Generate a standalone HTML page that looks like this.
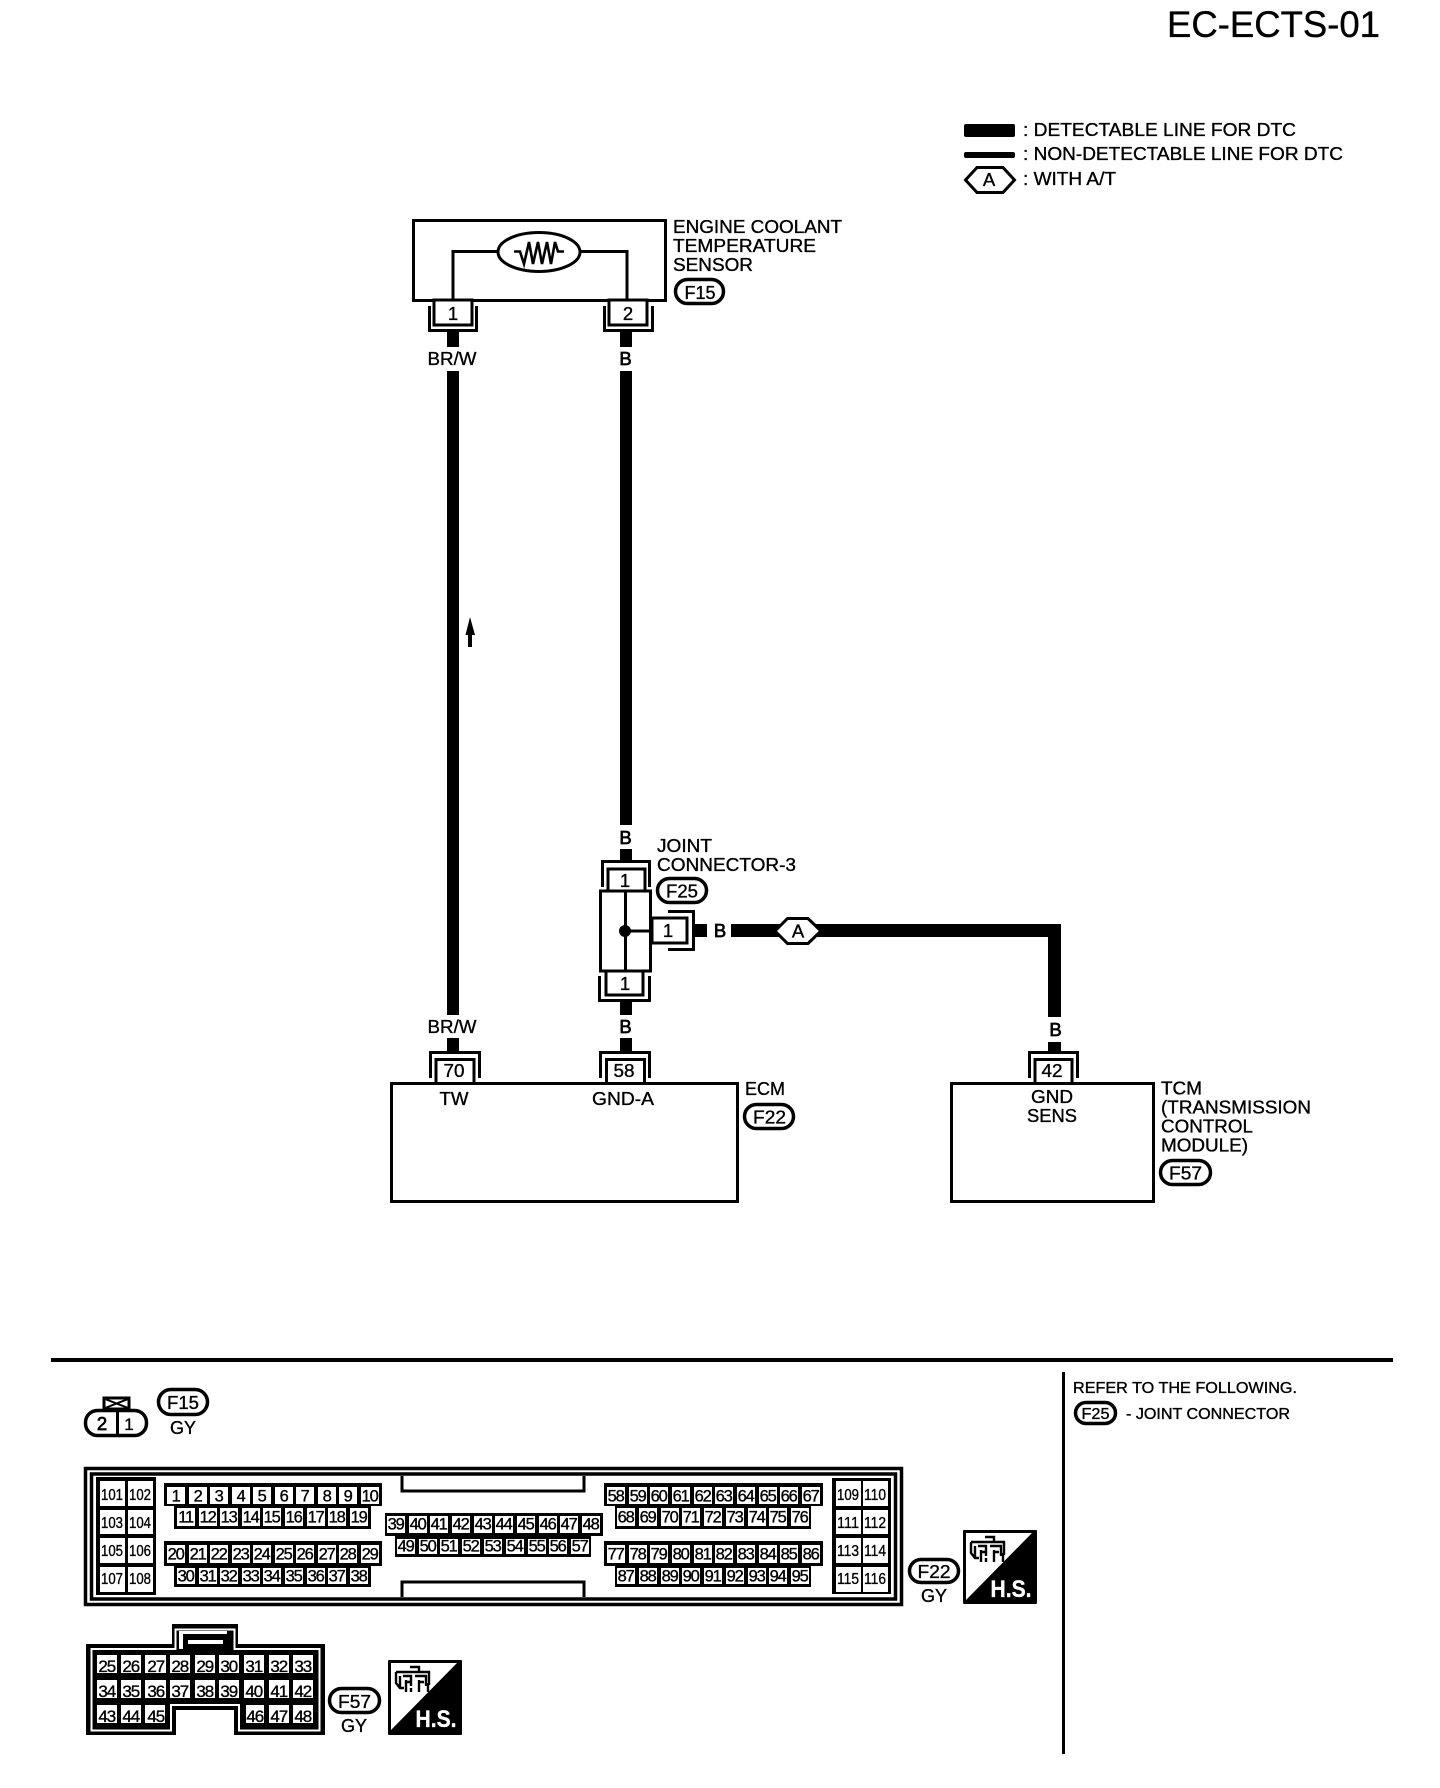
<!DOCTYPE html>
<html>
<head>
<meta charset="utf-8">
<title>EC-ECTS-01</title>
<style>
html,body{margin:0;padding:0;background:#fff;}
svg{display:block;}
text{font-family:"Liberation Sans",sans-serif;fill:#000;stroke:#000;stroke-width:.35;}
.m{text-anchor:middle;}
.l{font-size:18.5px;}
.n{font-size:16.5px;text-anchor:middle;letter-spacing:-1.2px;}
.b{font-size:18.5px;text-anchor:middle;stroke-width:.7;}
.h{font-size:16px;text-anchor:middle;}
.t{font-size:17px;text-anchor:middle;letter-spacing:-1.2px;}
.s{fill:#fff;stroke:#000;stroke-width:3;}
.o{fill:none;stroke:#000;stroke-width:3;}
.p{fill:#fff;stroke:#000;stroke-width:3.5;}
</style>
</head>
<body>
<svg xmlns="http://www.w3.org/2000/svg" width="1440" height="1788" viewBox="0 0 1440 1788">
<rect width="1440" height="1788" fill="#fff"/>

<!-- title -->
<text x="1167" y="37" font-size="37" textLength="213" lengthAdjust="spacingAndGlyphs">EC-ECTS-01</text>

<!-- legend -->
<rect x="964" y="124" width="51" height="13" rx="2"/>
<rect x="964" y="152" width="51" height="6" rx="2"/>
<polygon points="965.5,180 977,167.5 1003,167.5 1014.5,180 1003,192.5 977,192.5" class="o"/>
<text x="989" y="186" class="l m" font-size="18">A</text>
<text x="1023" y="136" class="l" textLength="273" lengthAdjust="spacingAndGlyphs">: DETECTABLE LINE FOR DTC</text>
<text x="1023" y="160" class="l" textLength="320" lengthAdjust="spacingAndGlyphs">: NON-DETECTABLE LINE FOR DTC</text>
<text x="1023" y="185" class="l" textLength="93" lengthAdjust="spacingAndGlyphs">: WITH A/T</text>

<!-- wires -->
<g fill="#000">
<rect x="447" y="332" width="12" height="15"/>
<rect x="447" y="371" width="12" height="644"/>
<rect x="447" y="1038" width="12" height="13"/>
<rect x="620" y="332" width="12" height="15"/>
<rect x="620" y="371" width="12" height="454"/>
<rect x="620" y="849" width="12" height="11"/>
<rect x="620" y="1002" width="12" height="13"/>
<rect x="620" y="1038" width="12" height="13"/>
<rect x="695" y="924" width="12" height="13"/>
<rect x="731" y="924" width="330" height="13"/>
<rect x="1048" y="924" width="13" height="93"/>
<rect x="1048" y="1042" width="13" height="9"/>
</g>
<!-- arrow -->
<path d="M470 617 L475 635 H472 V647 H468 V635 H465.5 Z" fill="#000"/>

<!-- sensor -->
<rect x="413.5" y="220.5" width="252" height="80" class="s"/>
<path d="M453 301 V251.5 H627 V301" class="o"/>
<ellipse cx="539" cy="252" rx="41" ry="19.5" fill="#fff" stroke="#000" stroke-width="3"/>
<path d="M514 251.5 H520 L524 264 L529 242 L533 264 L538 242 L542 264 L547 242 L551 264 L555 242 L558 251.5 H564" fill="none" stroke="#000" stroke-width="2.6"/>
<text x="673" y="233" class="l" textLength="169" lengthAdjust="spacingAndGlyphs">ENGINE COOLANT</text>
<text x="673" y="252" class="l" textLength="143" lengthAdjust="spacingAndGlyphs">TEMPERATURE</text>
<text x="673" y="271" class="l" textLength="80" lengthAdjust="spacingAndGlyphs">SENSOR</text>
<rect x="675.5" y="279.5" width="48" height="24" rx="12" class="p"/>
<text x="700" y="299" class="l m" textLength="31" lengthAdjust="spacingAndGlyphs">F15</text>

<!-- sensor connectors -->
<rect x="434" y="300" width="38" height="25" class="s"/>
<path d="M429.5 306 V330.5 H476.5 V306" class="o"/>
<text x="453" y="320" class="l m" font-size="17">1</text>
<rect x="609" y="300" width="38" height="25" class="s"/>
<path d="M604.5 306 V330.5 H652.5 V306" class="o"/>
<text x="628" y="320" class="l m" font-size="17">2</text>

<text x="452" y="365" class="l m" textLength="49" lengthAdjust="spacingAndGlyphs">BR/W</text>
<text x="625.5" y="365" class="b">B</text>

<!-- joint connector -->
<text x="625.5" y="844" class="b">B</text>
<text x="657" y="852" class="l" textLength="55" lengthAdjust="spacingAndGlyphs">JOINT</text>
<text x="657" y="871" class="l" textLength="139" lengthAdjust="spacingAndGlyphs">CONNECTOR-3</text>
<rect x="657.5" y="878.5" width="49" height="24" rx="12" class="p"/>
<text x="682" y="897.5" class="l m" textLength="32" lengthAdjust="spacingAndGlyphs">F25</text>

<path d="M602.5 887 V861.5 H649.5 V887" class="o"/>
<rect x="608" y="869" width="37" height="23" class="s"/>
<text x="625" y="887" class="l m" font-size="16">1</text>

<rect x="600.5" y="891" width="50" height="80" class="s"/>
<path d="M625.5 891 V971 M625.5 931 H651" class="o"/>
<circle cx="625" cy="931" r="6" fill="#000"/>

<path d="M668 911.5 H693.5 V949.5 H668" class="o"/>
<rect x="652" y="918" width="35" height="25" class="s"/>
<text x="668" y="937" class="l m" font-size="16">1</text>
<text x="720" y="937" class="b">B</text>

<polygon points="775,931 787.5,918.5 808,918.5 821,931 808,943.5 787.5,943.5" class="s"/>
<text x="798" y="937.5" class="l m" font-size="17">A</text>

<rect x="606" y="971" width="37" height="24" class="s"/>
<path d="M599.5 976 V1000.5 H649.5 V976" class="o"/>
<text x="625" y="990" class="l m" font-size="16">1</text>

<text x="452" y="1033" class="l m" textLength="49" lengthAdjust="spacingAndGlyphs">BR/W</text>
<text x="625.5" y="1033" class="b">B</text>
<text x="1055.5" y="1036" class="b">B</text>

<!-- ECM -->
<rect x="391.5" y="1083.5" width="346" height="118" class="s"/>
<path d="M430.5 1078 V1052.5 H479.5 V1078" class="o"/>
<rect x="436" y="1059.5" width="38" height="24" class="s"/>
<text x="454" y="1077" class="l m" font-size="18" textLength="21" lengthAdjust="spacingAndGlyphs">70</text>
<path d="M600.5 1078 V1052.5 H649.5 V1078" class="o"/>
<rect x="606.5" y="1059.5" width="38" height="24" class="s"/>
<text x="624" y="1077" class="l m" font-size="18" textLength="21" lengthAdjust="spacingAndGlyphs">58</text>
<text x="454" y="1105" class="l m" textLength="29" lengthAdjust="spacingAndGlyphs">TW</text>
<text x="623" y="1105" class="l m" textLength="62" lengthAdjust="spacingAndGlyphs">GND-A</text>
<text x="745" y="1095" class="l" textLength="40" lengthAdjust="spacingAndGlyphs">ECM</text>
<rect x="744.5" y="1104.5" width="49" height="24" rx="12" class="p"/>
<text x="769.5" y="1123.5" class="l m" textLength="33" lengthAdjust="spacingAndGlyphs">F22</text>

<!-- TCM -->
<rect x="951.5" y="1083.5" width="202" height="118" class="s"/>
<path d="M1029.5 1078 V1052.5 H1077.5 V1078" class="o"/>
<rect x="1035" y="1059.5" width="37" height="24" class="s"/>
<text x="1052" y="1077" class="l m" font-size="18" textLength="21" lengthAdjust="spacingAndGlyphs">42</text>
<text x="1052" y="1103" class="l m" textLength="42" lengthAdjust="spacingAndGlyphs">GND</text>
<text x="1052" y="1122" class="l m" textLength="50" lengthAdjust="spacingAndGlyphs">SENS</text>
<text x="1161" y="1094.5" class="l" textLength="41" lengthAdjust="spacingAndGlyphs">TCM</text>
<text x="1161" y="1113.5" class="l" textLength="150" lengthAdjust="spacingAndGlyphs">(TRANSMISSION</text>
<text x="1161" y="1132.5" class="l" textLength="92" lengthAdjust="spacingAndGlyphs">CONTROL</text>
<text x="1161" y="1151.5" class="l" textLength="87" lengthAdjust="spacingAndGlyphs">MODULE)</text>
<rect x="1160.5" y="1160.5" width="50" height="24" rx="12" class="p"/>
<text x="1185.5" y="1179.5" class="l m" textLength="33" lengthAdjust="spacingAndGlyphs">F57</text>

<!-- rules -->
<rect x="51" y="1358" width="1342" height="4"/>
<rect x="1062" y="1372" width="3" height="382"/>

<!-- refer -->
<text x="1073" y="1393" font-size="15.5" textLength="224" lengthAdjust="spacingAndGlyphs">REFER TO THE FOLLOWING.</text>
<rect x="1075.5" y="1402.5" width="40" height="21" rx="10.5" class="p"/>
<text x="1095.5" y="1419" class="m" font-size="15.5" textLength="28" lengthAdjust="spacingAndGlyphs">F25</text>
<text x="1126" y="1419" font-size="15.5" textLength="164" lengthAdjust="spacingAndGlyphs">- JOINT CONNECTOR</text>

<!-- F15 connector -->
<rect x="104" y="1398" width="25" height="11" class="s" stroke-width="2"/>
<path d="M105 1399 L128 1408 M128 1399 L105 1408" stroke="#000" stroke-width="2"/>
<rect x="85.5" y="1410.5" width="61" height="25" rx="12" class="p"/>
<rect x="116" y="1410" width="3" height="26"/>
<text x="102" y="1430" class="b" font-size="17">2</text>
<text x="129" y="1430" class="m" font-size="17">1</text>
<rect x="158.5" y="1389.5" width="49" height="25" rx="12.5" class="p"/>
<text x="183" y="1409" class="l m" textLength="32" lengthAdjust="spacingAndGlyphs">F15</text>
<text x="183" y="1434" class="l m" textLength="26" lengthAdjust="spacingAndGlyphs">GY</text>

<!-- ECM connector frame -->
<rect x="85.5" y="1468.5" width="816" height="136" fill="#fff" stroke="#000" stroke-width="3.5"/>
<rect x="91.5" y="1474" width="804" height="125" fill="#fff" stroke="#000" stroke-width="3.5"/>
<path d="M402 1476 V1491 H584 V1476" class="o" stroke-width="4"/>
<path d="M402 1597 V1582 H584 V1597" class="o" stroke-width="4"/>

<!-- black blocks -->
<g fill="#000">
<rect x="96" y="1477" width="60" height="118"/>
<rect x="832" y="1478" width="59" height="116"/>
<rect x="164" y="1483" width="218" height="23"/>
<rect x="174" y="1506" width="197" height="23"/>
<rect x="164" y="1541" width="218" height="25"/>
<rect x="174" y="1566" width="197" height="21"/>
<rect x="385" y="1513" width="218" height="23"/>
<rect x="395" y="1536" width="196" height="21"/>
<rect x="604" y="1483" width="219" height="23"/>
<rect x="615" y="1506" width="196" height="23"/>
<rect x="604" y="1541" width="219" height="25"/>
<rect x="615" y="1566" width="196" height="21"/>
</g>

<!-- white cells -->
<g fill="#fff">
<path d="M100 1481h25v25h-25zM128 1481h25v25h-25zM100 1510h25v24h-25zM128 1510h25v24h-25zM100 1538h25v25h-25zM128 1538h25v25h-25zM100 1567h25v25h-25zM128 1567h25v25h-25z"/>
<path d="M836 1481h25v25h-25zM863 1481h25v25h-25zM836 1510h25v24h-25zM863 1510h25v24h-25zM836 1538h25v25h-25zM863 1538h25v25h-25zM836 1567h25v25h-25zM863 1567h25v25h-25z"/>
<path d="M167 1487h18v17h-18zM189 1487h18v17h-18zM210 1487h18v17h-18zM232 1487h18v17h-18zM253 1487h18v17h-18zM275 1487h18v17h-18zM296 1487h18v17h-18zM318 1487h18v17h-18zM339 1487h18v17h-18zM361 1487h18v17h-18z"/>
<path d="M177 1508h18v18h-18zM199 1508h18v18h-18zM220 1508h18v18h-18zM242 1508h18v18h-18zM263 1508h18v18h-18zM285 1508h18v18h-18zM307 1508h18v18h-18zM328 1508h18v18h-18zM350 1508h18v18h-18z"/>
<path d="M167 1545h18v18h-18zM189 1545h18v18h-18zM210 1545h18v18h-18zM232 1545h18v18h-18zM253 1545h18v18h-18zM275 1545h18v18h-18zM296 1545h18v18h-18zM318 1545h18v18h-18zM339 1545h18v18h-18zM361 1545h18v18h-18z"/>
<path d="M177 1568h18v16h-18zM199 1568h18v16h-18zM220 1568h18v16h-18zM242 1568h18v16h-18zM263 1568h18v16h-18zM285 1568h18v16h-18zM307 1568h18v16h-18zM328 1568h18v16h-18zM350 1568h18v16h-18z"/>
<path d="M387 1516h18v17h-18zM409 1516h18v17h-18zM430 1516h18v17h-18zM452 1516h18v17h-18zM474 1516h18v17h-18zM495 1516h18v17h-18zM517 1516h18v17h-18zM539 1516h18v17h-18zM560 1516h18v17h-18zM582 1516h18v17h-18z"/>
<path d="M397 1539h18v15h-18zM419 1539h18v15h-18zM440 1539h18v15h-18zM462 1539h18v15h-18zM484 1539h18v15h-18zM506 1539h18v15h-18zM528 1539h18v15h-18zM549 1539h18v15h-18zM571 1539h18v15h-18z"/>
<path d="M607 1487h18v17h-18zM629 1487h18v17h-18zM650 1487h18v17h-18zM672 1487h18v17h-18zM694 1487h18v17h-18zM715 1487h18v17h-18zM737 1487h18v17h-18zM759 1487h18v17h-18zM780 1487h18v17h-18zM802 1487h18v17h-18z"/>
<path d="M617 1508h18v18h-18zM639 1508h18v18h-18zM661 1508h18v18h-18zM682 1508h18v18h-18zM704 1508h18v18h-18zM726 1508h18v18h-18zM748 1508h18v18h-18zM769 1508h18v18h-18zM791 1508h18v18h-18z"/>
<path d="M607 1545h18v18h-18zM629 1545h18v18h-18zM650 1545h18v18h-18zM672 1545h18v18h-18zM694 1545h18v18h-18zM715 1545h18v18h-18zM737 1545h18v18h-18zM759 1545h18v18h-18zM780 1545h18v18h-18zM802 1545h18v18h-18z"/>
<path d="M617 1568h18v16h-18zM639 1568h18v16h-18zM661 1568h18v16h-18zM682 1568h18v16h-18zM704 1568h18v16h-18zM726 1568h18v16h-18zM748 1568h18v16h-18zM769 1568h18v16h-18zM791 1568h18v16h-18z"/>
</g>

<!-- ECM numbers -->
<g>
<text x="112" y="1500" class="h" textLength="22" lengthAdjust="spacingAndGlyphs">101</text><text x="140" y="1500" class="h" textLength="22" lengthAdjust="spacingAndGlyphs">102</text>
<text x="112" y="1528" class="h" textLength="22" lengthAdjust="spacingAndGlyphs">103</text><text x="140" y="1528" class="h" textLength="22" lengthAdjust="spacingAndGlyphs">104</text>
<text x="112" y="1556" class="h" textLength="22" lengthAdjust="spacingAndGlyphs">105</text><text x="140" y="1556" class="h" textLength="22" lengthAdjust="spacingAndGlyphs">106</text>
<text x="112" y="1584" class="h" textLength="22" lengthAdjust="spacingAndGlyphs">107</text><text x="140" y="1584" class="h" textLength="22" lengthAdjust="spacingAndGlyphs">108</text>
<text x="848" y="1500" class="h" textLength="22" lengthAdjust="spacingAndGlyphs">109</text><text x="875" y="1500" class="h" textLength="22" lengthAdjust="spacingAndGlyphs">110</text>
<text x="848" y="1528" class="h" textLength="22" lengthAdjust="spacingAndGlyphs">111</text><text x="875" y="1528" class="h" textLength="22" lengthAdjust="spacingAndGlyphs">112</text>
<text x="848" y="1556" class="h" textLength="22" lengthAdjust="spacingAndGlyphs">113</text><text x="875" y="1556" class="h" textLength="22" lengthAdjust="spacingAndGlyphs">114</text>
<text x="848" y="1584" class="h" textLength="22" lengthAdjust="spacingAndGlyphs">115</text><text x="875" y="1584" class="h" textLength="22" lengthAdjust="spacingAndGlyphs">116</text>
</g>
<g transform="translate(-.4,-.6)">
<text x="176" y="1502" class="n">1</text><text x="198" y="1502" class="n">2</text><text x="219" y="1502" class="n">3</text><text x="241" y="1502" class="n">4</text><text x="262" y="1502" class="n">5</text><text x="284" y="1502" class="n">6</text><text x="305" y="1502" class="n">7</text><text x="327" y="1502" class="n">8</text><text x="348" y="1502" class="n">9</text><text x="370" y="1502" class="n">10</text>
<text x="186" y="1523" class="n">11</text><text x="208" y="1523" class="n">12</text><text x="229" y="1523" class="n">13</text><text x="251" y="1523" class="n">14</text><text x="272" y="1523" class="n">15</text><text x="294" y="1523" class="n">16</text><text x="316" y="1523" class="n">17</text><text x="337" y="1523" class="n">18</text><text x="359" y="1523" class="n">19</text>
<text x="176" y="1560" class="n">20</text><text x="198" y="1560" class="n">21</text><text x="219" y="1560" class="n">22</text><text x="241" y="1560" class="n">23</text><text x="262" y="1560" class="n">24</text><text x="284" y="1560" class="n">25</text><text x="305" y="1560" class="n">26</text><text x="327" y="1560" class="n">27</text><text x="348" y="1560" class="n">28</text><text x="370" y="1560" class="n">29</text>
<text x="186" y="1582" class="n">30</text><text x="208" y="1582" class="n">31</text><text x="229" y="1582" class="n">32</text><text x="251" y="1582" class="n">33</text><text x="272" y="1582" class="n">34</text><text x="294" y="1582" class="n">35</text><text x="316" y="1582" class="n">36</text><text x="337" y="1582" class="n">37</text><text x="359" y="1582" class="n">38</text>
<text x="396" y="1530" class="n">39</text><text x="418" y="1530" class="n">40</text><text x="439" y="1530" class="n">41</text><text x="461" y="1530" class="n">42</text><text x="483" y="1530" class="n">43</text><text x="504" y="1530" class="n">44</text><text x="526" y="1530" class="n">45</text><text x="548" y="1530" class="n">46</text><text x="569" y="1530" class="n">47</text><text x="591" y="1530" class="n">48</text>
<text x="406" y="1552" class="n">49</text><text x="428" y="1552" class="n">50</text><text x="449" y="1552" class="n">51</text><text x="471" y="1552" class="n">52</text><text x="493" y="1552" class="n">53</text><text x="515" y="1552" class="n">54</text><text x="537" y="1552" class="n">55</text><text x="558" y="1552" class="n">56</text><text x="580" y="1552" class="n">57</text>
<text x="616" y="1502" class="n">58</text><text x="638" y="1502" class="n">59</text><text x="659" y="1502" class="n">60</text><text x="681" y="1502" class="n">61</text><text x="703" y="1502" class="n">62</text><text x="724" y="1502" class="n">63</text><text x="746" y="1502" class="n">64</text><text x="768" y="1502" class="n">65</text><text x="789" y="1502" class="n">66</text><text x="811" y="1502" class="n">67</text>
<text x="626" y="1523" class="n">68</text><text x="648" y="1523" class="n">69</text><text x="670" y="1523" class="n">70</text><text x="691" y="1523" class="n">71</text><text x="713" y="1523" class="n">72</text><text x="735" y="1523" class="n">73</text><text x="757" y="1523" class="n">74</text><text x="778" y="1523" class="n">75</text><text x="800" y="1523" class="n">76</text>
<text x="616" y="1560" class="n">77</text><text x="638" y="1560" class="n">78</text><text x="659" y="1560" class="n">79</text><text x="681" y="1560" class="n">80</text><text x="703" y="1560" class="n">81</text><text x="724" y="1560" class="n">82</text><text x="746" y="1560" class="n">83</text><text x="768" y="1560" class="n">84</text><text x="789" y="1560" class="n">85</text><text x="811" y="1560" class="n">86</text>
<text x="626" y="1582" class="n">87</text><text x="648" y="1582" class="n">88</text><text x="670" y="1582" class="n">89</text><text x="691" y="1582" class="n">90</text><text x="713" y="1582" class="n">91</text><text x="735" y="1582" class="n">92</text><text x="757" y="1582" class="n">93</text><text x="778" y="1582" class="n">94</text><text x="800" y="1582" class="n">95</text>
</g>

<!-- F22 -->
<rect x="909.5" y="1559.5" width="49" height="23" rx="11.5" class="p"/>
<text x="934" y="1578" class="l m" textLength="33" lengthAdjust="spacingAndGlyphs">F22</text>
<text x="934" y="1602" class="l m" textLength="26" lengthAdjust="spacingAndGlyphs">GY</text>

<!-- H.S. 1 -->
<rect x="963" y="1530" width="74" height="74" rx="1"/>
<polygon points="966,1533 1032,1533 966,1600" fill="#fff"/>
<text x="990.5" y="1597" font-size="24" font-weight="bold" style="fill:#fff;stroke:#fff" textLength="41" lengthAdjust="spacingAndGlyphs">H.S.</text>
<path d="M971 1542 H1004 V1555 M971 1542 V1553 L975 1558 H979 M975 1546 V1558 M978 1546 H986 V1556 M990 1546 H1001 V1556 M981 1550 V1562 M985 1552 H981 M994 1550 V1562 M999 1552 H994 M1003 1553 V1562 M985 1537 H994 V1542 M986 1558 V1562" fill="none" stroke="#000" stroke-width="2.4"/>

<!-- F57 connector -->
<path d="M86 1644 H172 V1624 H238 V1644 H325 V1735 H234 V1710 H176 V1735 H86 Z" fill="#000"/>
<path d="M91.5 1649 H175.5 V1629.5 H234.5 V1649 H319.5 V1730.5 H246 H239 V1705 H171 V1730.5 H91.5 Z" fill="none" stroke="#fff" stroke-width="2"/>
<rect x="179" y="1631" width="48" height="18" fill="#fff"/>
<rect x="183" y="1634" width="45" height="15" fill="#000"/>
<rect x="188" y="1640" width="35" height="4" fill="#fff"/>
<g fill="#fff">
<path d="M97 1655h20v18h-20zM121 1655h20v18h-20zM145 1655h21v18h-21zM170 1655h20v18h-20zM195 1655h20v18h-20zM219 1655h20v18h-20zM244 1655h20v18h-20zM269 1655h20v18h-20zM293 1655h20v18h-20z"/>
<path d="M97 1680h20v18h-20zM121 1680h20v18h-20zM145 1680h21v18h-21zM170 1680h20v18h-20zM195 1680h20v18h-20zM219 1680h20v18h-20zM244 1680h20v18h-20zM269 1680h20v18h-20zM293 1680h20v18h-20z"/>
<path d="M97 1705h20v18h-20zM121 1705h20v18h-20zM145 1705h20v18h-20zM246 1705h18v18h-18zM269 1705h20v18h-20zM293 1705h20v18h-20z"/>
</g>
<g transform="translate(-.3,.8)">
<text x="107" y="1671" class="t">25</text><text x="131" y="1671" class="t">26</text><text x="156" y="1671" class="t">27</text><text x="180" y="1671" class="t">28</text><text x="205" y="1671" class="t">29</text><text x="229" y="1671" class="t">30</text><text x="254" y="1671" class="t">31</text><text x="279" y="1671" class="t">32</text><text x="303" y="1671" class="t">33</text>
<text x="107" y="1696" class="t">34</text><text x="131" y="1696" class="t">35</text><text x="156" y="1696" class="t">36</text><text x="180" y="1696" class="t">37</text><text x="205" y="1696" class="t">38</text><text x="229" y="1696" class="t">39</text><text x="254" y="1696" class="t">40</text><text x="279" y="1696" class="t">41</text><text x="303" y="1696" class="t">42</text>
<text x="107" y="1721" class="t">43</text><text x="131" y="1721" class="t">44</text><text x="156" y="1721" class="t">45</text><text x="255" y="1721" class="t">46</text><text x="279" y="1721" class="t">47</text><text x="303" y="1721" class="t">48</text>
</g>

<rect x="329.5" y="1688.5" width="50" height="24" rx="12" class="p"/>
<text x="354.5" y="1708" class="l m" textLength="33" lengthAdjust="spacingAndGlyphs">F57</text>
<text x="354" y="1732" class="l m" textLength="26" lengthAdjust="spacingAndGlyphs">GY</text>

<!-- H.S. 2 -->
<rect x="388" y="1660" width="74" height="75" rx="1"/>
<polygon points="391,1663 457,1663 391,1730" fill="#fff"/>
<text x="415.5" y="1727" font-size="24" font-weight="bold" style="fill:#fff;stroke:#fff" textLength="41" lengthAdjust="spacingAndGlyphs">H.S.</text>
<path d="M396 1672 H429 V1685 M396 1672 V1683 L400 1688 H404 M400 1676 V1688 M403 1676 H411 V1686 M415 1676 H426 V1686 M406 1680 V1692 M410 1682 H406 M419 1680 V1692 M424 1682 H419 M428 1683 V1692 M410 1667 H419 V1672 M411 1688 V1692" fill="none" stroke="#000" stroke-width="2.4"/>
</svg>
</body>
</html>
